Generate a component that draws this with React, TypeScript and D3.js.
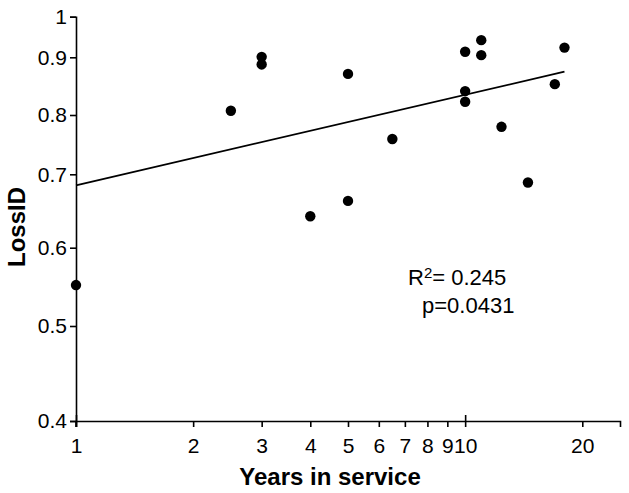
import * as d3 from "d3";
import { useEffect, useRef } from "react";

// Points (years in service vs LossID)
const years = [1, 2.5, 3, 3, 4, 5, 5, 6.5, 10, 10, 10, 11, 11, 12.4, 14.5, 17, 18];
const lossID = [0.55, 0.807, 0.901, 0.887, 0.641, 0.87, 0.662, 0.758, 0.913, 0.84, 0.822, 0.941, 0.905, 0.779, 0.688, 0.852, 0.923];

// Regression line end points
const fitYears = [1, 18];
const fitLossID = [0.684, 0.874];

const xTicks = [1, 2, 3, 4, 5, 6, 7, 8, 9, 10, 20];
const xMajor = [1, 10];
const yTicks = [0.4, 0.5, 0.6, 0.7, 0.8, 0.9, 1];

const statLines = ["= 0.245", "p=0.0431"];

const W = 629;
const H = 493;
const FONT = "'Liberation Sans', Arial, sans-serif";

const App = () => {
  const svgRef = useRef<SVGSVGElement>(null);

  useEffect(() => {
    if (!svgRef.current) return;
    const svg = d3.select(svgRef.current);
    svg.selectAll("*").remove();

    const x = d3.scaleLog().domain([1, 25]).range([76, 620]);
    // y axis of the original is a log axis whose ticks are not quite evenly placed,
    // so it is calibrated tick by tick
    const y = d3
      .scaleLog()
      .domain(yTicks)
      .range([421, 326, 247.7, 174.3, 115, 57.3, 16.7]);

    const x0 = x.range()[0];
    const yBottom = y(0.4);

    // X axis
    const gx = svg
      .append("g")
      .attr("transform", `translate(0,${yBottom})`)
      .call(
        d3
          .axisBottom(x)
          .tickValues(xTicks)
          .tickFormat(d3.format("d") as any)
          .tickSize(6)
          .tickSizeOuter(6)
          .tickPadding(11)
      );
    gx.selectAll("text").attr("font-size", 21).attr("font-family", FONT).attr("fill", "#000");
    gx.selectAll("line, path").attr("stroke", "#000").attr("stroke-width", 1.6);
    // major ticks stick out above the axis too
    gx.selectAll<SVGLineElement, number>(".tick line")
      .filter((d) => xMajor.includes(d))
      .attr("y1", -6);

    // Y axis
    const gy = svg
      .append("g")
      .attr("transform", `translate(${x0},0)`)
      .call(
        d3
          .axisLeft(y)
          .tickValues(yTicks)
          .tickFormat((d) => d3.format("")(+d))
          .tickSize(6)
          .tickSizeOuter(6)
          .tickPadding(3)
      );
    gy.selectAll("text").attr("font-size", 21).attr("font-family", FONT).attr("fill", "#000");
    gy.selectAll("line, path").attr("stroke", "#000").attr("stroke-width", 1.6);
    // y axis runs a little below the x axis
    svg
      .append("line")
      .attr("x1", x0)
      .attr("x2", x0)
      .attr("y1", yBottom)
      .attr("y2", yBottom + 6)
      .attr("stroke", "#000")
      .attr("stroke-width", 1.6);

    // Regression line
    const fit = fitYears.map((v, i) => [v, fitLossID[i]] as [number, number]);
    svg
      .append("path")
      .datum(fit)
      .attr(
        "d",
        d3
          .line<[number, number]>()
          .x((d) => x(d[0]))
          .y((d) => y(d[1]))
      )
      .attr("fill", "none")
      .attr("stroke", "#000")
      .attr("stroke-width", 1.8);

    // Points
    svg
      .selectAll(".dot")
      .data(years.map((v, i) => ({ yr: v, loss: lossID[i] })))
      .join("circle")
      .attr("class", "dot")
      .attr("cx", (d) => x(d.yr))
      .attr("cy", (d) => y(d.loss))
      .attr("r", 5.2)
      .attr("fill", "#000");

    // Axis titles
    svg
      .append("text")
      .attr("x", 330)
      .attr("y", 485)
      .attr("text-anchor", "middle")
      .attr("font-family", FONT)
      .attr("font-weight", "bold")
      .attr("font-size", 24)
      .text("Years in service");

    svg
      .append("text")
      .attr("transform", `translate(25,${227}) rotate(-90)`)
      .attr("text-anchor", "middle")
      .attr("font-family", FONT)
      .attr("font-weight", "bold")
      .attr("font-size", 24)
      .text("LossID");

    // Stats annotation
    const t1 = svg
      .append("text")
      .attr("x", 408)
      .attr("y", 285)
      .attr("font-family", FONT)
      .attr("font-size", 22);
    t1.append("tspan").text("R");
    t1.append("tspan").attr("font-size", 15).attr("dy", -7).text("2");
    t1.append("tspan").attr("dy", 7).text(statLines[0]);

    svg
      .append("text")
      .attr("x", 422)
      .attr("y", 313)
      .attr("font-family", FONT)
      .attr("font-size", 22)
      .text(statLines[1]);
  }, []);

  return (
    <svg
      ref={svgRef}
      width={W}
      height={H}
      style={{ position: "absolute", left: 0, top: 0, background: "#fff" }}
    />
  );
};

export default App;
